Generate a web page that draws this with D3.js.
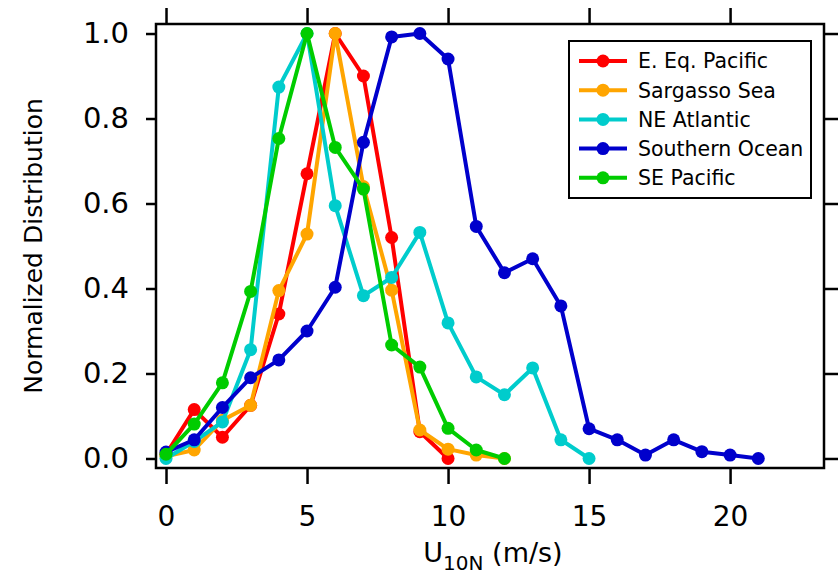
<!DOCTYPE html>
<html>
<head>
<meta charset="utf-8">
<script src="https://cdn.jsdelivr.net/npm/d3@7"></script>
<style>
  html, body { margin: 0; padding: 0; background: #fff; }
  svg { display: block; }
  text { font-family: "DejaVu Sans", sans-serif; fill: #000; }
</style>
</head>
<body>
<svg id="chart" width="838" height="577"></svg>
<script>
// ---- data ----
const windBins = [0,1,2,3,4,5,6,7,8,9,10,11,12,13,14,15,16,17,18,19,20,21];
const seriesNames = ["E. Eq. Pacific", "Sargasso Sea", "NE Atlantic", "Southern Ocean", "SE Pacific"];
const seriesColors = ["#ff0000", "#ffa500", "#00cccc", "#0000cc", "#00cc00"];
const eqPacific   = [0.01, 0.115, 0.05, 0.125, 0.34, 0.67, 1.0, 0.90, 0.52, 0.063, 0.0];
const sargasso    = [0.005, 0.02, 0.09, 0.125, 0.395, 0.528, 1.0, 0.64, 0.396, 0.067, 0.022, 0.008, 0.0];
const neAtlantic  = [0.0, 0.04, 0.086, 0.256, 0.874, 1.0, 0.595, 0.383, 0.426, 0.532, 0.319, 0.192, 0.15, 0.213, 0.044, 0.0];
const southern    = [0.015, 0.044, 0.12, 0.19, 0.232, 0.30, 0.403, 0.744, 0.992, 1.0, 0.94, 0.546, 0.437, 0.47, 0.359, 0.07, 0.044, 0.008, 0.044, 0.016, 0.008, 0.0];
const sePacific   = [0.01, 0.081, 0.178, 0.393, 0.753, 1.0, 0.732, 0.634, 0.267, 0.215, 0.071, 0.02, 0.0];
const xTicks = [0, 5, 10, 15, 20];
const yTicks = [0.0, 0.2, 0.4, 0.6, 0.8, 1.0];
const xDomain = [-0.355, 23.33];
const yDomain = [-0.0224, 1.0224];

const seriesValues = [eqPacific, sargasso, neAtlantic, southern, sePacific];

// ---- layout ----
const svg = d3.select("#chart");
const frame = { left: 156, right: 824, top: 24, bottom: 468 };
const x = d3.scaleLinear().domain(xDomain).range([frame.left, frame.right]);
const y = d3.scaleLinear().domain(yDomain).range([frame.bottom, frame.top]);

// axes
const axL = svg.append("g").attr("transform", `translate(${frame.left},0)`)
  .call(d3.axisLeft(y).tickValues(yTicks).tickFormat(d3.format(".1f")).tickSize(10).tickPadding(17));
const axB = svg.append("g").attr("transform", `translate(0,${frame.bottom})`)
  .call(d3.axisBottom(x).tickValues(xTicks).tickFormat(d3.format("d")).tickSize(16).tickPadding(22));
const axT = svg.append("g").attr("transform", `translate(0,${frame.top})`)
  .call(d3.axisTop(x).tickValues(xTicks).tickFormat("").tickSize(16));
const axR = svg.append("g").attr("transform", `translate(${frame.right},0)`)
  .call(d3.axisRight(y).tickValues(yTicks).tickFormat("").tickSize(16));
[axL, axB, axT, axR].forEach(g => {
  g.select(".domain").remove();
  g.selectAll(".tick line").attr("stroke", "#000").attr("stroke-width", 2.5);
  g.selectAll(".tick text").style("font-size", "29px").style("font-family", "'DejaVu Sans', sans-serif");
});
axB.selectAll(".tick text").style("font-size", "28px");

// frame
svg.append("rect")
  .attr("x", frame.left).attr("y", frame.top)
  .attr("width", frame.right - frame.left).attr("height", frame.bottom - frame.top)
  .attr("fill", "none").attr("stroke", "#000").attr("stroke-width", 2.5);

// series
const plot = svg.append("g");
const line = d3.line().x((d, i) => x(windBins[i])).y(d => y(d));
seriesValues.forEach((vals, k) => {
  const g = plot.append("g");
  g.append("path").datum(vals).attr("d", line)
    .attr("fill", "none").attr("stroke", seriesColors[k]).attr("stroke-width", 4)
    .attr("stroke-linejoin", "round");
  g.selectAll("circle").data(vals).join("circle")
    .attr("cx", (d, i) => x(windBins[i])).attr("cy", d => y(d))
    .attr("r", 6.5).attr("fill", seriesColors[k]);
});

// legend
const leg = svg.append("g");
leg.append("rect").attr("x", 569).attr("y", 41).attr("width", 242).attr("height", 157)
  .attr("fill", "#fff").attr("stroke", "#000").attr("stroke-width", 2);
seriesNames.forEach((name, k) => {
  const cy = 61 + k * 29.2;
  leg.append("line").attr("x1", 579).attr("x2", 627).attr("y1", cy).attr("y2", cy)
    .attr("stroke", seriesColors[k]).attr("stroke-width", 4);
  leg.append("circle").attr("cx", 603).attr("cy", cy).attr("r", 6.5).attr("fill", seriesColors[k]);
  leg.append("text").attr("x", 638).attr("y", cy).attr("dy", "0.36em")
    .style("font-size", "20.5px").text(name);
});

// axis titles
svg.append("text")
  .attr("transform", "translate(42,246) rotate(-90)")
  .attr("text-anchor", "middle").style("font-size", "25px")
  .text("Normalized Distribution");
const xt = svg.append("text").attr("x", 493).attr("y", 562).attr("text-anchor", "middle").style("font-size", "27px");
xt.append("tspan").text("U");
xt.append("tspan").attr("dy", 8).style("font-size", "20px").text("10N");
xt.append("tspan").attr("dy", -8).text(" (m/s)");
</script>
</body>
</html>
